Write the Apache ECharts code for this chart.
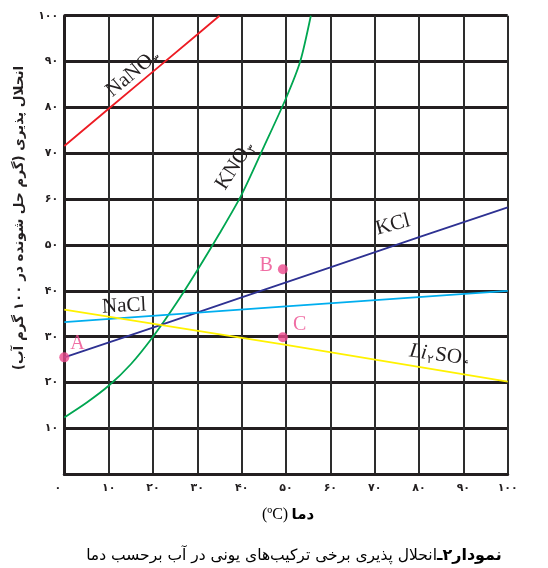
<!DOCTYPE html>
<html>
<head>
<meta charset="utf-8">
<script src="https://cdn.jsdelivr.net/npm/echarts@6/dist/echarts.min.js"></script>
<style>
html,body{margin:0;padding:0;background:#fff;}
#c{width:548px;height:568px;}
</style>
</head>
<body>
<div id="c"></div>
<script>
// ---- Data ----
const xTicks = [0, 10, 20, 30, 40, 50, 60, 70, 80, 90, 100];
const yTicks = [10, 20, 30, 40, 50, 60, 70, 80, 90, 100];

const nano3T = [0, 10, 20, 30, 35];
const nano3S = [71.6, 79.7, 87.8, 95.9, 100];

const kno3T = [0, 5, 10, 15, 20, 25, 30, 35, 40, 45, 50, 53.2, 55.6];
const kno3S = [12.4, 15.6, 19.3, 24.0, 30.0, 36.9, 44.5, 52.5, 61.0, 71.4, 82.0, 90.0, 100];

const kclT = [0, 20, 40, 60, 80, 100];
const kclS = [25.5, 32.0, 38.6, 45.1, 51.7, 58.2];

const naclT = [0, 50, 100];
const naclS = [33.2, 36.6, 40.0];

const li2so4T = [0, 50, 100];
const li2so4S = [35.9, 28.2, 20.2];

const pointNames = ['A', 'B', 'C'];
const pointT = [0, 49.3, 49.3];
const pointS = [25.5, 44.7, 29.9];

// label anchors (data coordinates)
const labelNames = ['NaNO', 'KNO', 'KCl', 'NaCl', 'Li'];
const labelT = [15.5, 38.5, 74.1, 13.5, 84.7];
const labelS = [87.5, 67.4, 54.4, 36.7, 26.0];

const yTitle = 'انحلال پذیری (گرم حل شونده در ۱۰۰ گرم آب)';
const xTitleWord = 'دما';
const xTitleUnit = '(ºC)';
const captionBold = 'نمودار۲ـ';
const captionText = 'انحلال پذیری برخی ترکیب‌های یونی در آب برحسب دما';

// ---- helpers ----
const fa = s => String(s).replace(/\d/g, d => '۰۱۲۳۴۵۶۷۸۹'[d]);
const zip = (a, b) => a.map((v, i) => [v, b[i]]);

const chart = echarts.init(document.getElementById('c'), null, {renderer: 'canvas'});
const persianFont = '"DejaVu Sans", sans-serif';
const serif = '"Liberation Serif", "DejaVu Serif", serif';

const lineSeries = (data, color, smooth) => ({
  type: 'line', data: data, showSymbol: false, symbol: 'none',
  smooth: smooth || false, lineStyle: {color: color, width: 1.8}, z: 5, silent: true
});

const option = {
  animation: false,
  backgroundColor: '#fff',
  grid: {left: 64.3, right: 40.3, top: 15.7, bottom: 93.7, containLabel: false},
  xAxis: {
    type: 'value', min: 0, max: 100, interval: 10,
    axisLine: {show: true, lineStyle: {color: '#231f20', width: 3}},
    axisTick: {show: false},
    splitLine: {show: true, lineStyle: {color: '#2d2d2d', width: 2}},
    axisLabel: {
      margin: 8, fontFamily: persianFont, fontSize: 11, fontWeight: 'bold', color: '#231f20',
      formatter: v => v === 0 ? '{z|' + fa(v) + '}' : fa(v),
      rich: {z: {fontFamily: persianFont, fontSize: 11, fontWeight: 'bold', color: '#231f20', padding: [0, 13, 6, 0]}}
    }
  },
  yAxis: {
    type: 'value', min: 0, max: 100, interval: 10,
    axisLine: {show: true, lineStyle: {color: '#231f20', width: 3}},
    axisTick: {show: false},
    splitLine: {show: true, lineStyle: {color: '#231f20', width: 3}},
    axisLabel: {
      margin: 6, showMinLabel: false, fontFamily: persianFont, fontSize: 11, fontWeight: 'bold', color: '#231f20',
      formatter: v => fa(v)
    }
  },
  series: [
    lineSeries(zip(nano3T, nano3S), '#ed1c24'),
    lineSeries(zip(kno3T, kno3S), '#00a651', 0.25),
    lineSeries(zip(kclT, kclS), '#2e3192'),
    lineSeries(zip(naclT, naclS), '#00aeef'),
    lineSeries(zip(li2so4T, li2so4S), '#fff200'),
    {
      type: 'scatter', symbolSize: 10, z: 10,
      itemStyle: {color: '#ec4a8d'},
      data: zip(pointT, pointS).map((p, i) => ({value: p, name: pointNames[i]})),
      label: {
        show: true, formatter: p => p.name, fontFamily: serif, fontSize: 20, color: '#ec4a8d'
      }
    }
  ]
};
// per-point label offsets
option.series[5].data[0].label = {position: 'right', offset: [-4, -14]};
option.series[5].data[1].label = {position: 'left', offset: [0, -4]};
option.series[5].data[2].label = {position: 'right', offset: [0, -12]};

chart.setOption(option);

const px = i => chart.convertToPixel({gridIndex: 0}, [labelT[i], labelS[i]]);
const base = {fontFamily: serif, fontSize: 21, fill: '#231f20'};
const mk = (i, text, rot, rich) => {
  const p = px(i);
  return {
    type: 'text', x: p[0], y: p[1], rotation: rot, z: 20,
    style: Object.assign({text: text, align: 'center', verticalAlign: 'middle', rich: rich || {}}, base)
  };
};
const richChem = {a: {fontFamily: serif, fontSize: 21, color: '#231f20'},
                  i: {fontFamily: serif, fontSize: 21, fontStyle: 'italic', color: '#231f20'},
                  s: {fontFamily: persianFont, fontSize: 12, color: '#231f20', padding: [12, 1, 0, 1]}};

chart.setOption({
  graphic: [
    mk(0, '{a|NaNO}{s|' + fa(3) + '}', 40 * Math.PI / 180, richChem),
    mk(1, '{a|KNO}{s|' + fa(3) + '}', 57 * Math.PI / 180, richChem),
    mk(2, 'KCl', 15 * Math.PI / 180),
    mk(3, 'NaCl', 3 * Math.PI / 180),
    mk(4, '{i|Li}{s|' + fa(2) + '}{a|SO}{s|' + fa(4) + '}', -8 * Math.PI / 180, richChem),
    {
      type: 'text', x: 19, y: 218, rotation: Math.PI / 2, z: 20,
      style: {text: yTitle, align: 'center', verticalAlign: 'middle',
              fontFamily: persianFont, fontSize: 13.5, fontWeight: 'bold', fill: '#231f20'}
    },
    {
      type: 'text', x: 288, y: 515, z: 20,
      style: {text: '{c|' + xTitleUnit + '} {b|' + xTitleWord + '}', align: 'center', verticalAlign: 'middle',
              rich: {b: {fontFamily: persianFont, fontSize: 15, fontWeight: 'bold', color: '#231f20'},
                     c: {fontFamily: serif, fontSize: 16, color: '#231f20'}}}
    },
    {
      type: 'text', x: 294, y: 556, z: 20,
      style: {text: '{n|' + captionText + '}{b|' + captionBold + '}', align: 'center', verticalAlign: 'middle',
              rich: {b: {fontFamily: persianFont, fontSize: 16, fontWeight: 'bold', color: '#231f20'},
                     n: {fontFamily: persianFont, fontSize: 15.5, color: '#231f20'}}}
    }
  ]
});
</script>
</body>
</html>
